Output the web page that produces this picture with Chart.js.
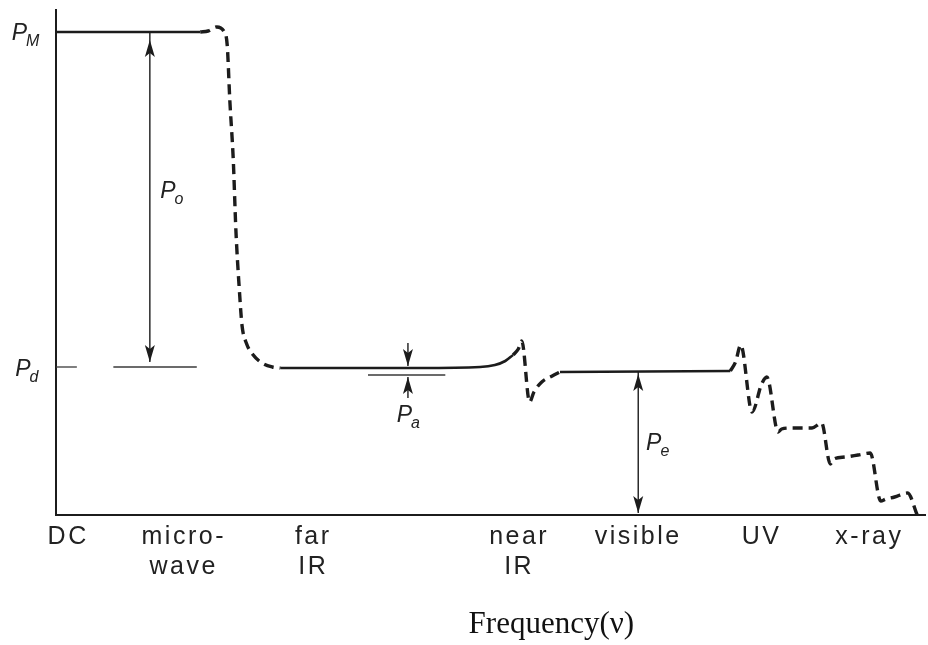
<!DOCTYPE html>
<html>
<head>
<meta charset="utf-8">
<script src="https://cdn.jsdelivr.net/npm/chart.js@4.4.1/dist/chart.umd.min.js"></script>
<style>
  html, body { margin: 0; padding: 0; background: #ffffff; }
  canvas { display: block; }
</style>
</head>
<body>
<canvas id="chart" width="928" height="645"></canvas>
<script>
// Frequency bands along the horizontal axis (relative frequency, 0–100)
const bandLabels = [['DC'], ['micro-', 'wave'], ['far', 'IR'], ['near', 'IR'], ['visible'], ['UV'], ['x-ray']];
const bandPositions = [1.4, 14.7, 29.6, 53.3, 67.0, 81.2, 93.6];

// Polarization levels (relative units)
const levelPM = 96.6;   // total static polarization
const levelPd = 29.6;   // after dipolar relaxation
const levelPa = 28.0;   // lower edge of the atomic step
const levelPe = 28.6;   // electronic polarization plateau

// Polarization curve, split into solid and dashed runs: [frequency, polarization]
const runStatic = [[0, 96.6], [16.6, 96.6]];
const runMicrowave = [[16.6, 96.6], [17.5, 96.8], [18.5, 97.6], [19.3, 96.8], [19.7, 94.0], [20.0, 83.0],
  [20.4, 71.0], [20.7, 57.0], [21.1, 45.0], [21.4, 38.0], [21.9, 34.4], [22.7, 32.0], [23.7, 30.4],
  [24.9, 29.6], [25.8, 29.4]];
const runFarIR = [[25.8, 29.4], [33.8, 29.4], [41.9, 29.4], [48.8, 29.6], [50.5, 30.0], [51.7, 30.8], [52.6, 32.0]];
const runNearIR = [[52.6, 32.0], [53.2, 33.2], [53.6, 34.8], [54.5, 22.6], [55.0, 24.6], [55.9, 26.6],
  [57.1, 27.8], [58.0, 28.6]];
const runVisible = [[58.0, 28.6], [77.6, 28.8]];
const runUV = [[77.6, 28.8], [78.2, 30.6], [78.8, 34.0], [80.1, 20.6], [81.2, 26.2], [81.8, 27.6],
  [83.1, 16.6], [83.5, 17.2], [84.5, 17.4], [87.0, 17.4], [88.1, 18.4], [89.1, 10.2], [89.5, 11.2],
  [90.8, 11.6], [92.3, 12.0], [93.7, 12.4], [94.9, 2.8], [95.5, 3.2], [96.5, 3.6], [98.0, 4.4], [99.1, 0]];

// Thin reference lines: [fromX, toX, level]
const refLines = [[0, 2.4, levelPd], [6.6, 16.2, levelPd], [35.9, 44.8, levelPa]];

// Arrows: x, tail level, shaft end, tip level, and whether the tail also carries a head
const arrows = [
  { x: 10.8, from: 30.6, to: levelPM, tipAt: 95.0, both: true },
  { x: 40.5, from: 34.4, to: 29.8, tipAt: 29.8, both: false },
  { x: 40.5, from: 23.4, to: 27.6, tipAt: 27.6, both: false },
  { x: 67.0, from: 0.4, to: levelPe, tipAt: 28.2, both: true }
];

// Symbol labels (italic P with subscript), placed at their baseline
const symbols = [
  { main: 'P', sub: 'M', x: -5.1, y: 95.0 },
  { main: 'P', sub: 'd', x: -4.7, y: 27.8 },
  { main: 'P', sub: 'o', x: 12.0, y: 63.4 },
  { main: 'P', sub: 'a', x: 39.2, y: 18.6 },
  { main: 'P', sub: 'e', x: 67.9, y: 13.0 }
];

const axisTitle = 'Frequency(\u03BD)';

const INK = '#1c1c1c';

function line(data, dashed) {
  return {
    data: data.map(([x, y]) => ({ x, y })),
    borderColor: INK,
    borderWidth: dashed ? 3.4 : 2.6,
    borderDash: dashed ? [10, 6] : [],
    borderCapStyle: 'butt',
    pointRadius: 0,
    cubicInterpolationMode: 'monotone',
    fill: false
  };
}

function head(ctx, px, py, dir) {
  // dir = -1 points up, +1 points down; (px, py) is the tip
  ctx.beginPath();
  ctx.moveTo(px, py);
  ctx.lineTo(px - 5, py - dir * 17);
  ctx.lineTo(px, py - dir * 13);
  ctx.lineTo(px + 5, py - dir * 17);
  ctx.closePath();
  ctx.fill();
}

const annotate = {
  id: 'annotate',
  beforeDraw(chart) { chart.ctx.letterSpacing = '2.5px'; },
  beforeDatasetsDraw(chart) { chart.ctx.letterSpacing = '0px'; },
  afterDatasetsDraw(chart) {
    const { ctx, scales: { x, y }, chartArea } = chart;
    ctx.save();
    ctx.letterSpacing = '0px';

    ctx.strokeStyle = '#3a3a3a';
    ctx.lineWidth = 1.3;
    for (const [x0, x1, v] of refLines) {
      ctx.beginPath();
      ctx.moveTo(x.getPixelForValue(x0), y.getPixelForValue(v));
      ctx.lineTo(x.getPixelForValue(x1), y.getPixelForValue(v));
      ctx.stroke();
    }

    ctx.strokeStyle = INK;
    ctx.fillStyle = INK;
    ctx.lineWidth = 1.4;
    for (const a of arrows) {
      const px = x.getPixelForValue(a.x);
      const pFrom = y.getPixelForValue(a.from);
      const pTo = y.getPixelForValue(a.to);
      const pTip = y.getPixelForValue(a.tipAt);
      ctx.beginPath();
      ctx.moveTo(px, pFrom);
      ctx.lineTo(px, pTo);
      ctx.stroke();
      const dir = pTip < pFrom ? -1 : 1;
      head(ctx, px, pTip, dir);
      if (a.both) head(ctx, px, pFrom, -dir);
    }

    ctx.fillStyle = '#222';
    ctx.textBaseline = 'alphabetic';
    ctx.textAlign = 'left';
    for (const s of symbols) {
      const px = x.getPixelForValue(s.x);
      const py = y.getPixelForValue(s.y);
      ctx.font = 'italic 23px "Liberation Sans", Arial, sans-serif';
      ctx.fillText(s.main, px, py);
      const w = ctx.measureText(s.main).width;
      ctx.font = 'italic 16px "Liberation Sans", Arial, sans-serif';
      ctx.fillText(s.sub, px + w - 1, py + 6);
    }

    ctx.fillStyle = '#111';
    ctx.textAlign = 'center';
    ctx.font = '31px "Liberation Serif", "Times New Roman", serif';
    ctx.fillText(axisTitle, x.getPixelForValue(57.0), chartArea.bottom + 118);
    ctx.restore();
  }
};

new Chart(document.getElementById('chart'), {
  type: 'line',
  data: {
    datasets: [
      line(runStatic, false),
      line(runMicrowave, true),
      line(runFarIR, false),
      line(runNearIR, true),
      line(runVisible, false),
      line(runUV, true)
    ]
  },
  options: {
    responsive: false,
    animation: false,
    layout: { padding: { left: 56, right: 3, top: 10, bottom: 56 } },
    plugins: { legend: { display: false }, tooltip: { enabled: false } },
    scales: {
      x: {
        type: 'linear',
        min: 0,
        max: 100,
        grid: { display: false, drawTicks: false },
        border: { display: true, color: INK, width: 2 },
        afterBuildTicks(scale) { scale.ticks = bandPositions.map(v => ({ value: v })); },
        ticks: {
          autoSkip: false,
          maxRotation: 0,
          padding: 7,
          color: '#222',
          font: { family: '"Liberation Sans", Arial, sans-serif', size: 25, lineHeight: 1.2 },
          callback: (value, index) => bandLabels[index]
        }
      },
      y: {
        type: 'linear',
        min: 0,
        max: 101,
        grid: { display: false, drawTicks: false },
        border: { display: true, color: INK, width: 2 },
        ticks: { display: false }
      }
    }
  },
  plugins: [annotate]
});
</script>
</body>
</html>
